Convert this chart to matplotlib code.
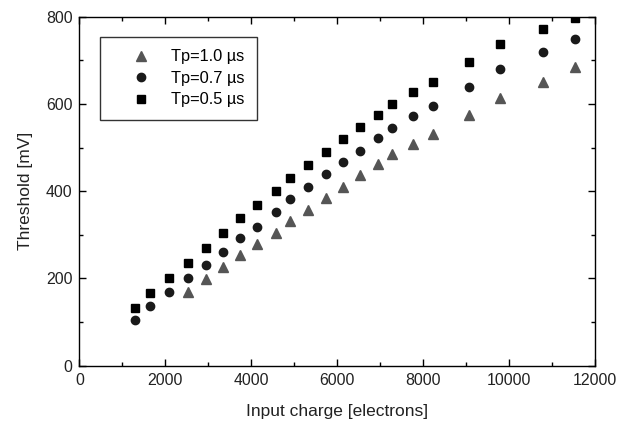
import matplotlib.pyplot as plt
from matplotlib.ticker import MultipleLocator

plt.rcParams['font.family'] = ['Liberation Sans', 'DejaVu Sans']

# charge values shared by all series (electrons)
charge = [1300, 1650, 2080, 2520, 2940, 3350, 3730, 4130, 4580, 4890, 5320,
          5740, 6140, 6540, 6940, 7270, 7770, 8240, 9060, 9800, 10790, 11530]

thr_05 = [132, 167, 202, 236, 270, 305, 339, 369, 400, 430, 461,
          490, 519, 547, 575, 600, 628, 651, 697, 737, 771, 796]
thr_07 = [105, 137, 168, 200, 231, 261, 292, 319, 353, 383, 410,
          439, 467, 493, 521, 546, 572, 595, 639, 681, 718, 749]
# 1.0 us series starts at the 4th charge point
charge_10 = charge[3:]
thr_10 = [169, 198, 227, 254, 278, 305, 332, 358, 384, 410,
          436, 462, 485, 508, 531, 574, 613, 651, 685]

fig = plt.figure(figsize=(6.18, 4.23), dpi=100)
ax = fig.add_axes([0.1286, 0.1355, 0.834, 0.825])

ax.plot(charge_10, thr_10, linestyle='none', marker='^', ms=7.5,
        color='#555555', mec='#555555', label='Tp=1.0 \u00b5s')
ax.plot(charge, thr_07, linestyle='none', marker='o', ms=6,
        color='#1a1a1a', label='Tp=0.7 \u00b5s')
ax.plot(charge, thr_05, linestyle='none', marker='s', ms=5.2,
        color='black', label='Tp=0.5 \u00b5s')

ax.set_xlim(0, 12000)
ax.set_ylim(0, 800)
ax.xaxis.set_major_locator(MultipleLocator(2000))
ax.xaxis.set_minor_locator(MultipleLocator(1000))
ax.yaxis.set_major_locator(MultipleLocator(200))
ax.yaxis.set_minor_locator(MultipleLocator(100))
ax.tick_params(which='both', direction='in', top=True, right=True,
               labelsize=11.4, width=1, pad=5, labelcolor='#222222')
ax.tick_params(which='major', length=5)
ax.tick_params(which='minor', length=3)
for s in ax.spines.values():
    s.set_linewidth(1)

ax.set_xlabel('Input charge [electrons]', fontsize=12.5, labelpad=12,
              color='#222222')
ax.set_ylabel('Threshold [mV]', fontsize=12.5, labelpad=9, color='#222222')

leg = ax.legend(loc='upper left', bbox_to_anchor=(0.040, 0.942),
                borderaxespad=0, fancybox=False, edgecolor='black',
                fontsize=11.8, handletextpad=0.1, borderpad=0.75,
                labelspacing=0.4, handlelength=3.5)
leg.get_frame().set_linewidth(1)

fig.savefig('out.png', dpi=100)
